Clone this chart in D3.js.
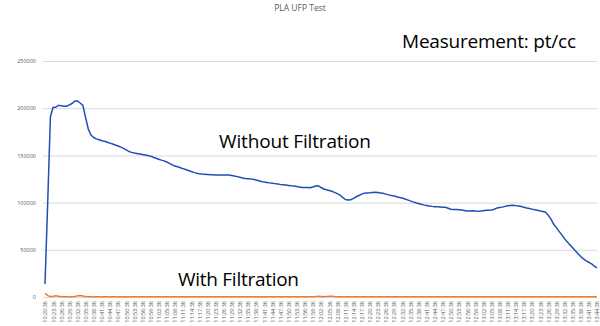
<!DOCTYPE html>
<html>
<head>
<meta charset="utf-8">
<script src="https://cdn.jsdelivr.net/npm/d3@7"></script>
<style>
  html, body { margin: 0; padding: 0; background: #fff; }
  svg { display: block; }
</style>
</head>
<body>
<svg id="chart" width="600" height="326"></svg>
<script>
// ---- data ----
const title = "PLA UFP Test";
const seriesNames = ["Without Filtration", "With Filtration"];
const tickLabels = [
  "10:20:36","10:23:36","10:26:36","10:29:36","10:32:36","10:35:36","10:38:36","10:41:36","10:44:36","10:47:36",
  "10:50:36","10:53:36","10:56:36","10:59:36","11:02:36","11:05:36","11:08:36","11:11:36","11:14:36","11:17:36",
  "11:20:36","11:23:36","11:26:36","11:29:36","11:32:36","11:35:36","11:38:36","11:41:36","11:44:36","11:47:36",
  "11:50:36","11:53:36","11:56:36","11:59:36","12:02:36","12:05:36","12:08:36","12:11:36","12:14:36","12:17:36",
  "12:20:36","12:23:36","12:26:36","12:29:36","12:32:36","12:35:36","12:38:36","12:41:36","12:44:36","12:47:36",
  "12:50:36","12:53:36","12:56:36","12:59:36","13:02:36","13:05:36","13:08:36","13:11:36","13:14:36","13:17:36",
  "13:20:36","13:23:36","13:26:36","13:29:36","13:32:36","13:35:36","13:38:36","13:41:36","13:44:36"
];
const yTicks = [0, 50000, 100000, 150000, 200000, 250000];

// one reading per minute, 10:20:36 .. 13:44:36
const withoutFiltration = [
  13800,100000,191000,201000,201000,203000,202500,202000,202000,203500,
  205000,207500,207500,205500,203000,190000,178000,171500,169000,167500,
  166500,165500,165000,164000,163000,162000,161000,160000,158800,157500,
  155800,154200,153200,152500,152000,151500,151000,150400,149800,149200,
  148000,147000,146000,145000,144200,143000,141500,140000,138800,138000,
  137000,136000,135000,134000,133000,132000,131200,130500,130200,130000,
  129800,129600,129400,129200,129200,129200,129200,129200,129200,128800,
  128200,127500,126800,126000,125500,125200,124900,124700,124000,123200,
  122300,121700,121300,120900,120500,120100,119700,119300,119000,118600,
  118200,117800,117500,117000,116500,116100,116000,115900,115800,116500,
  117500,117800,116000,114400,113700,112900,112000,110800,109500,108000,
  105500,103300,102700,102900,104500,106200,107500,109000,110000,110300,
  110500,110800,110900,110600,110200,109800,109000,108200,107500,106900,
  106200,105500,104800,103900,102900,101800,100800,99900,99100,98300,
  97600,97000,96400,96000,95700,95500,95300,95100,95000,94000,
  93000,92800,92600,92400,92200,91700,91200,91000,91300,91000,
  90800,91000,91400,91800,92000,92200,93000,94200,94800,95200,
  96000,96600,97000,97100,96800,96300,95800,95000,94300,93800,
  93100,92500,91900,91200,90600,89800,86500,82500,77000,73500,
  69500,65800,61800,58400,55200,52200,49000,45800,42800,40300,
  38200,36800,35000,32800,30800
];
const withFiltration = [
  4000,1500,500,800,1200,800,400,300,300,300,
  300,600,1200,1500,1000,400,300,300,300,300,
  300,300,300,300,300,300,300,300,300,300,
  300,300,300,300,300,300,300,300,300,300,
  300,300,300,300,300,300,300,300,300,300,
  300,300,300,300,300,300,300,300,300,300,
  300,300,300,300,300,300,300,300,300,300,
  300,300,300,300,300,300,300,300,300,300,
  300,300,300,300,300,300,300,300,300,300,
  300,300,300,300,300,300,300,300,300,300,
  500,900,600,300,400,700,900,500,300,300,
  300,300,300,300,300,300,300,300,300,300,
  300,300,300,300,300,300,300,300,300,300,
  300,300,300,300,300,300,300,300,300,300,
  300,300,300,300,300,300,300,300,300,300,
  300,300,300,300,300,300,300,300,300,300,
  300,300,300,300,300,300,300,300,300,300,
  300,300,300,300,300,300,300,300,300,300,
  300,300,300,300,300,300,300,300,300,300,
  300,300,300,300,300,300,300,300,300,300,
  300,300,300,300,300
];

// ---- drawing ----
const svg = d3.select("#chart");
const plotLeft = 45, plotRight = 597, plotTop = 61, plotBottom = 297;
const n = withoutFiltration.length;

const x = d3.scaleLinear().domain([0, n - 1]).range([plotLeft, plotRight]);
const y = d3.scaleLinear().domain([0, 250000]).range([plotBottom, plotTop]);

// gridlines + y labels
const yAxis = d3.axisLeft(y).tickValues(yTicks).tickSize(-(plotRight - plotLeft + 2)).tickPadding(7).tickFormat(d => String(d));
const gy = svg.append("g").attr("transform", `translate(${plotLeft - 2},0)`).call(yAxis);
gy.select(".domain").remove();
gy.selectAll(".tick line").attr("stroke", "#d9d9d9").attr("stroke-width", 1);
gy.selectAll(".tick text").attr("fill", "#595959").style("font-family", "'Open Sans', sans-serif").style("font-size", "5.5px");

// x labels
const labelIdx = tickLabels.map((_, i) => i * 3);
const xAxis = d3.axisBottom(x).tickValues(labelIdx).tickSize(0).tickFormat((d) => tickLabels[d / 3]);
const gx = svg.append("g").attr("transform", `translate(0,${plotBottom + 2})`).call(xAxis);
gx.select(".domain").remove();
gx.selectAll(".tick text")
  .attr("fill", "#595959")
  .style("font-family", "'Open Sans', sans-serif")
  .style("font-size", "5.5px")
  .attr("transform", "rotate(-90)")
  .attr("text-anchor", "end")
  .attr("x", -2)
  .attr("y", 0)
  .attr("dy", "0.35em");

// lines
const line = d3.line().x((d, i) => x(i)).y(d => y(d));
svg.append("path").datum(withFiltration).attr("d", line)
  .attr("fill", "none").attr("stroke", "#ed7d31").attr("stroke-width", 1.5).attr("stroke-linejoin", "round");
svg.append("path").datum(withoutFiltration).attr("d", line)
  .attr("fill", "none").attr("stroke", "#1f4eb5").attr("stroke-width", 1.5).attr("stroke-linejoin", "round");

// title
svg.append("text").attr("x", 300).attr("y", 11).attr("text-anchor", "middle")
  .attr("fill", "#595959").style("font-family", "'Open Sans', sans-serif").style("font-size", "8.5px")
  .text(title);

// annotations
const ann = svg.append("g").style("font-family", "'Open Sans', sans-serif").attr("fill", "#000");
ann.append("text").attr("x", 402).attr("y", 48).style("font-size", "19px").attr("textLength", 174).text("Measurement: pt/cc");
ann.append("text").attr("x", 219).attr("y", 148).style("font-size", "19px").attr("textLength", 152).text(seriesNames[0]);
ann.append("text").attr("x", 178).attr("y", 286).style("font-size", "19px").attr("textLength", 121).text(seriesNames[1]);
</script>
</body>
</html>
